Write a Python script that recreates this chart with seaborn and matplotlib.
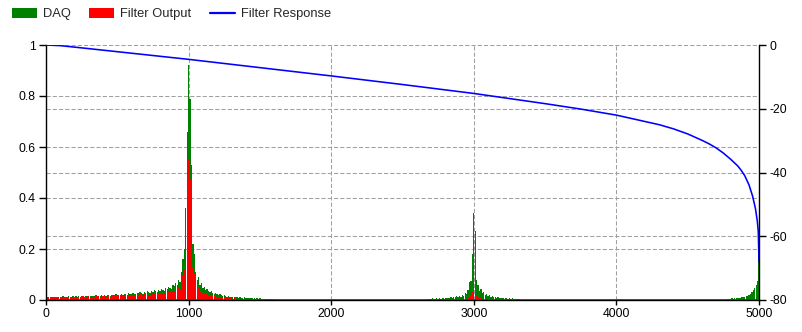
import numpy as np
import pandas as pd
import matplotlib
matplotlib.use("Agg")
import matplotlib.pyplot as plt
import seaborn as sns
from matplotlib.patches import Patch
from matplotlib.lines import Line2D

# ---------------- data ----------------
BIN_HZ = 10

# DAQ spectrum and filter output, band around 1000 Hz (bins 10 .. 1600 Hz)
low_start = 10
daq_low = [
    0.012, 0.011, 0.013, 0.012, 0.010, 0.012, 0.013, 0.011, 0.012, 0.013,
    0.012, 0.014, 0.011, 0.013, 0.012, 0.014, 0.013, 0.012, 0.014, 0.013,
    0.014, 0.012, 0.015, 0.013, 0.014, 0.016, 0.013, 0.015, 0.014, 0.016,
    0.015, 0.017, 0.014, 0.016, 0.018, 0.015, 0.017, 0.016, 0.019, 0.017,
    0.018, 0.016, 0.020, 0.018, 0.017, 0.021, 0.019, 0.018, 0.022, 0.020,
    0.021, 0.019, 0.023, 0.021, 0.025, 0.022, 0.020, 0.026, 0.024, 0.022,
    0.027, 0.025, 0.023, 0.029, 0.026, 0.031, 0.028, 0.025, 0.032, 0.029,
    0.034, 0.030, 0.027, 0.036, 0.033, 0.038, 0.035, 0.031, 0.041, 0.037,
    0.044, 0.040, 0.036, 0.048, 0.045, 0.052, 0.047, 0.042, 0.058, 0.054,
    0.066, 0.058, 0.080, 0.072, 0.110, 0.160, 0.200, 0.360, 0.660, 0.920,
    0.790, 0.530, 0.220, 0.180, 0.110, 0.078, 0.090, 0.059, 0.066, 0.048,
    0.052, 0.040, 0.044, 0.036, 0.031, 0.034, 0.028, 0.025, 0.029, 0.022,
    0.020, 0.023, 0.018, 0.016, 0.019, 0.015, 0.013, 0.016, 0.012, 0.013,
    0.011, 0.012, 0.010, 0.011, 0.009, 0.010, 0.008, 0.009, 0.010, 0.008,
    0.007, 0.008, 0.007, 0.006, 0.007, 0.006, 0.005, 0.006, 0.005, 0.006,
    0.005, 0.004, 0.005, 0.004, 0.004, 0.005, 0.003, 0.004, 0.004, 0.003,
]
out_low = [
    0.012, 0.011, 0.013, 0.012, 0.010, 0.011, 0.012, 0.010, 0.011, 0.012,
    0.011, 0.013, 0.010, 0.012, 0.011, 0.013, 0.012, 0.011, 0.012, 0.012,
    0.012, 0.011, 0.013, 0.011, 0.012, 0.014, 0.011, 0.013, 0.012, 0.014,
    0.012, 0.014, 0.012, 0.013, 0.015, 0.012, 0.014, 0.013, 0.016, 0.014,
    0.014, 0.013, 0.016, 0.014, 0.013, 0.017, 0.015, 0.014, 0.017, 0.015,
    0.016, 0.014, 0.017, 0.016, 0.019, 0.016, 0.015, 0.019, 0.018, 0.016,
    0.019, 0.018, 0.016, 0.021, 0.018, 0.022, 0.020, 0.018, 0.023, 0.020,
    0.023, 0.020, 0.018, 0.024, 0.022, 0.026, 0.023, 0.021, 0.027, 0.024,
    0.028, 0.026, 0.023, 0.031, 0.029, 0.033, 0.030, 0.027, 0.037, 0.034,
    0.040, 0.035, 0.049, 0.044, 0.067, 0.097, 0.120, 0.215, 0.380, 0.550,
    0.470, 0.310, 0.130, 0.105, 0.064, 0.045, 0.052, 0.034, 0.038, 0.027,
    0.029, 0.022, 0.024, 0.020, 0.017, 0.019, 0.015, 0.014, 0.016, 0.012,
    0.011, 0.012, 0.009, 0.008, 0.010, 0.008, 0.007, 0.008, 0.006, 0.007,
    0.005, 0.006, 0.005, 0.005, 0.004, 0.005, 0.004, 0.004, 0.005, 0.004,
    0.003, 0.004, 0.003, 0.003, 0.003, 0.003, 0.002, 0.003, 0.002, 0.003,
    0.002, 0.002, 0.002, 0.002, 0.002, 0.002, 0.001, 0.002, 0.002, 0.001,
]

# band around 3000 Hz (bins 2680 .. 3320 Hz)
mid_start = 2680
daq_mid = [
    0.004, 0.005, 0.004, 0.006, 0.005, 0.004, 0.006, 0.005, 0.007, 0.005,
    0.006, 0.008, 0.006, 0.007, 0.009, 0.007, 0.010, 0.008, 0.012, 0.010,
    0.014, 0.011, 0.017, 0.013, 0.020, 0.016, 0.026, 0.022, 0.040, 0.072,
    0.075, 0.180, 0.340, 0.270, 0.078, 0.060, 0.034, 0.045, 0.026, 0.030,
    0.020, 0.023, 0.016, 0.018, 0.013, 0.015, 0.011, 0.012, 0.009, 0.010,
    0.008, 0.009, 0.007, 0.008, 0.006, 0.007, 0.005, 0.006, 0.005, 0.006,
    0.004, 0.005, 0.004, 0.004, 0.003,
]
out_mid = [
    0.001, 0.001, 0.001, 0.001, 0.001, 0.001, 0.001, 0.001, 0.001, 0.001,
    0.001, 0.001, 0.001, 0.001, 0.002, 0.001, 0.002, 0.002, 0.002, 0.002,
    0.003, 0.002, 0.003, 0.002, 0.004, 0.003, 0.005, 0.004, 0.007, 0.013,
    0.014, 0.034, 0.065, 0.048, 0.014, 0.011, 0.006, 0.008, 0.005, 0.005,
    0.003, 0.004, 0.003, 0.003, 0.002, 0.003, 0.002, 0.002, 0.002, 0.002,
    0.001, 0.002, 0.001, 0.001, 0.001, 0.001, 0.001, 0.001, 0.001, 0.001,
    0.001, 0.001, 0.001, 0.001, 0.001,
]

# band near 5000 Hz (bins 4780 .. 5000 Hz)
high_start = 4780
daq_high = [
    0.004, 0.005, 0.004, 0.006, 0.005, 0.007, 0.006, 0.008, 0.007, 0.009,
    0.010, 0.012, 0.011, 0.014, 0.017, 0.020, 0.025, 0.030, 0.038, 0.046,
    0.058, 0.075, 0.260,
]

# filter response (dB)
resp_freq = [0, 100, 250, 500, 750, 1000, 1250, 1500, 2000, 2500, 3000, 3500, 3750,
             4000, 4200, 4300, 4400, 4500, 4600, 4650, 4700, 4750, 4800, 4850, 4875,
             4900, 4930, 4955, 4975, 4988, 4995, 5000]
resp_db = [0.0, -0.2, -0.9, -2.1, -3.3, -4.5, -5.8, -7.1, -9.7, -12.4, -15.2, -18.4, -20.1,
           -22.0, -24.0, -25.0, -26.3, -27.9, -29.9, -31.0, -32.3, -33.9, -35.8, -37.9, -39.3,
           -41.0, -43.9, -47.4, -51.3, -55.2, -58.6, -68.0]

x_ticks = [0, 1000, 2000, 3000, 4000, 5000]
left_ticks = [0, 0.2, 0.4, 0.6, 0.8, 1.0]
left_labels = ["0", "0.2", "0.4", "0.6", "0.8", "1"]
right_ticks = [-80, -60, -40, -20, 0]
legend_labels = ["DAQ", "Filter Output", "Filter Response"]

# ---------------- build tables ----------------
def band(start, vals):
    return start + BIN_HZ * np.arange(len(vals))

daq_df = pd.DataFrame({
    "freq": np.concatenate([band(low_start, daq_low), band(mid_start, daq_mid),
                            band(high_start, daq_high)]),
    "amp": np.concatenate([daq_low, daq_mid, daq_high]),
})
out_df = pd.DataFrame({
    "freq": np.concatenate([band(low_start, out_low), band(mid_start, out_mid)]),
    "amp": np.concatenate([out_low, out_mid]),
})
resp_df = pd.DataFrame({"freq": resp_freq, "db": resp_db})

# ---------------- style ----------------
sns.set_theme(style="white")
plt.rcParams["font.family"] = ["Liberation Sans", "DejaVu Sans"]
plt.rcParams["axes.unicode_minus"] = False

GREEN = "#008000"
RED = "#ff0000"
BLUE = "#0000ff"
GRID = "#a0a0a0"

fig = plt.figure(figsize=(8.02, 3.32), dpi=100)
fig.patch.set_facecolor("white")
ax = fig.add_axes([46 / 802, 32 / 332, 713 / 802, 255 / 332])

bin_range = (-BIN_HZ / 2, 5000 + BIN_HZ / 2)
sns.histplot(data=daq_df, x="freq", weights="amp", binwidth=BIN_HZ, binrange=bin_range,
             shrink=0.9, color=GREEN, alpha=1, linewidth=0, edgecolor="none",
             antialiased=False, ax=ax, zorder=2)
sns.histplot(data=out_df, x="freq", weights="amp", binwidth=BIN_HZ, binrange=bin_range,
             shrink=0.9, color=RED, alpha=1, linewidth=0, edgecolor="none",
             antialiased=False, ax=ax, zorder=3)
ax.axhline(0, color=RED, lw=2.0, zorder=3.5)

ax.set_xlim(0, 5000)
ax.set_ylim(0, 1)
ax.set_xlabel("")
ax.set_ylabel("")
ax.set_xticks(x_ticks)
ax.set_xticklabels([str(t) for t in x_ticks])
ax.set_yticks(left_ticks)
ax.set_yticklabels(left_labels)
# right-axis gridline positions (-60, -40, -20 dB) expressed on the left scale
ax.set_yticks([(v + 80) / 80 for v in right_ticks[1:-1]], minor=True)
ax.set_axisbelow(True)
ax.grid(True, which="both", axis="y", color=GRID, lw=0.75, ls=(0, (4, 2)))
ax.grid(True, which="major", axis="x", color=GRID, lw=0.75, ls=(0, (4, 2)))
ax.tick_params(axis="y", which="major", direction="out", length=5, width=1,
               color="black", labelsize=8.8, pad=2.5, left=True, labelcolor="black")
ax.tick_params(axis="y", which="minor", length=0)
ax.tick_params(axis="x", direction="out", length=3.5, width=1, color="black",
               labelsize=8.8, pad=2.5, bottom=True, labelcolor="black")
for s in ["top", "right"]:
    ax.spines[s].set_visible(False)
for s in ["left", "bottom"]:
    ax.spines[s].set_color("black")
    ax.spines[s].set_linewidth(1.0)
    ax.spines[s].set_zorder(4)

ax2 = ax.twinx()
sns.lineplot(data=resp_df, x="freq", y="db", estimator=None, sort=False,
             color=BLUE, lw=1.15, ax=ax2)
ax2.set_ylim(-80, 0)
ax2.set_xlim(0, 5000)
ax2.set_ylabel("")
ax2.set_yticks(right_ticks)
ax2.set_yticklabels([str(t) for t in right_ticks])
ax2.grid(False)
ax2.tick_params(axis="y", direction="out", length=5, width=1, color="black",
                labelsize=8.8, pad=2.5, right=True, labelcolor="black")
for s in ["top", "left", "bottom"]:
    ax2.spines[s].set_visible(False)
ax2.spines["right"].set_color("black")
ax2.spines["right"].set_linewidth(1.0)

handles = [Patch(facecolor=GREEN, edgecolor="none"),
           Patch(facecolor=RED, edgecolor="none"),
           Line2D([], [], color=BLUE, lw=1.6)]
fig.legend(handles, legend_labels, loc="upper left",
           bbox_to_anchor=(12 / 802, 1 - 8 / 332), ncol=3, frameon=False,
           fontsize=9.25, handlelength=1.95, handleheight=0.78,
           handletextpad=0.45, columnspacing=1.45, borderpad=0, borderaxespad=0)

fig.savefig("out.png", dpi=100, facecolor="white")
